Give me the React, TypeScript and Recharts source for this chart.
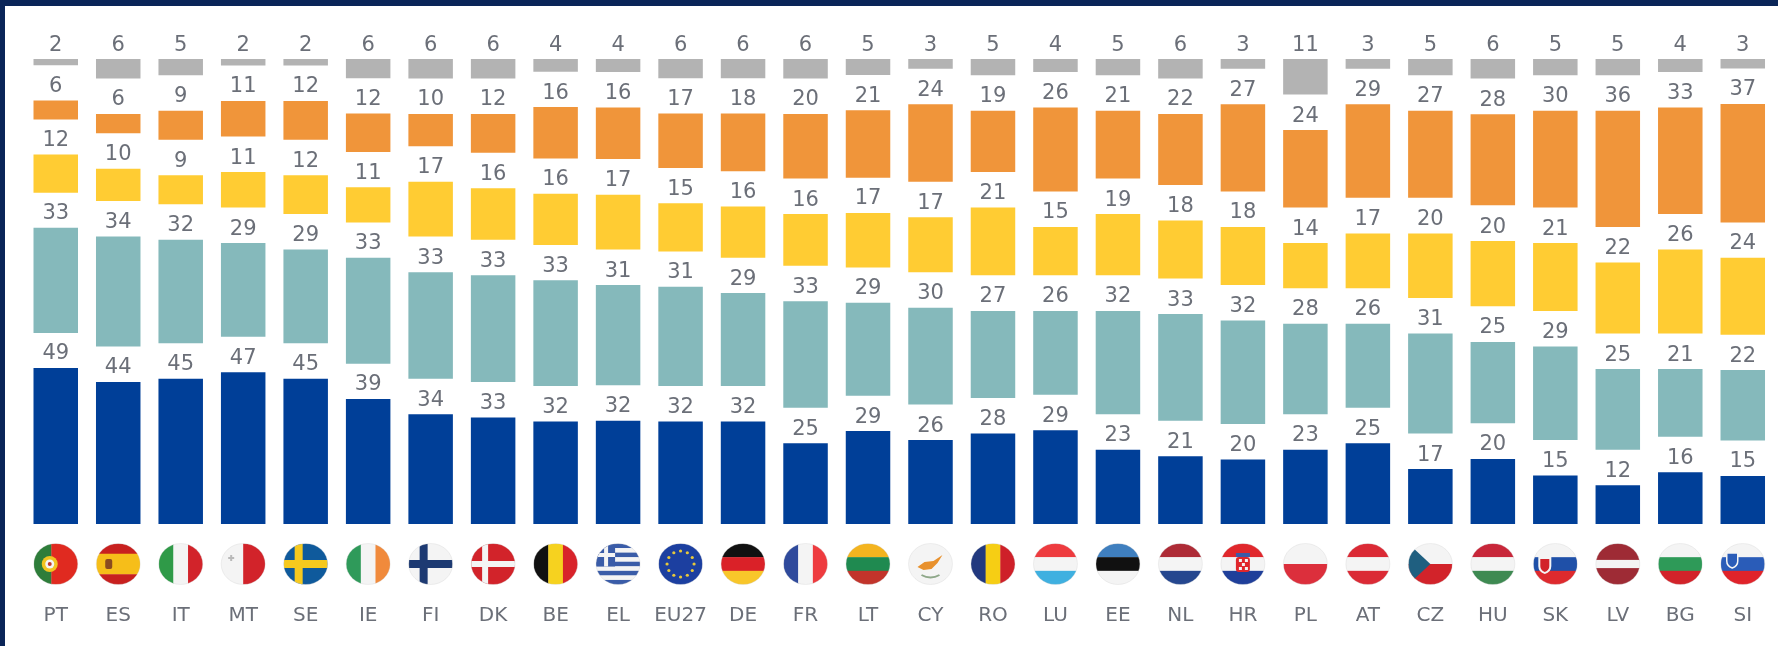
import { BarChart, Bar, XAxis, YAxis, LabelList } from 'recharts'

const COUNTRIES = ['PT', 'ES', 'IT', 'MT', 'SE', 'IE', 'FI', 'DK', 'BE', 'EL', 'EU27', 'DE', 'FR', 'LT', 'CY', 'RO', 'LU', 'EE', 'NL', 'HR', 'PL', 'AT', 'CZ', 'HU', 'SK', 'LV', 'BG', 'SI']
const BLUE = [49, 44, 45, 47, 45, 39, 34, 33, 32, 32, 32, 32, 25, 29, 26, 28, 29, 23, 21, 20, 23, 25, 17, 20, 15, 12, 16, 15]
const TEAL = [33, 34, 32, 29, 29, 33, 33, 33, 33, 31, 31, 29, 33, 29, 30, 27, 26, 32, 33, 32, 28, 26, 31, 25, 29, 25, 21, 22]
const YELLOW = [12, 10, 9, 11, 12, 11, 17, 16, 16, 17, 15, 16, 16, 17, 17, 21, 15, 19, 18, 18, 14, 17, 20, 20, 21, 22, 26, 24]
const ORANGE = [6, 6, 9, 11, 12, 12, 10, 12, 16, 16, 17, 18, 20, 21, 24, 19, 26, 21, 22, 27, 24, 29, 27, 28, 30, 36, 33, 37]
const GREY = [2, 6, 5, 2, 2, 6, 6, 6, 4, 4, 6, 6, 6, 5, 3, 5, 4, 5, 6, 3, 11, 3, 5, 6, 5, 5, 4, 3]

// white space between the segments, in the same units as the values
const GAP = 11

const rows = COUNTRIES.map((c, i) => ({
  country: c,
  blue: BLUE[i],
  gap1: GAP,
  teal: TEAL[i],
  gap2: GAP,
  yellow: YELLOW[i],
  gap3: GAP,
  orange: ORANGE[i],
  gap4: GAP,
  grey: GREY[i],
}))

const SEGMENTS = [
  { key: 'blue', color: '#003F98', spacer: 'gap1' },
  { key: 'teal', color: '#85B9BB', spacer: 'gap2' },
  { key: 'yellow', color: '#FFCC33', spacer: 'gap3' },
  { key: 'orange', color: '#F0953A', spacer: 'gap4' },
  { key: 'grey', color: '#B3B3B3', spacer: null },
]

const TEXT = '#6B6F78'
const FONT = '"DejaVu Sans", sans-serif'

const W = '#F4F4F4'

// plain striped flags: direction and colours
const STRIPES: Record<string, { dir: 'h' | 'v'; colors: string[]; weights?: number[] }> = {
  PT: { dir: 'v', colors: ['#2E7D3A', '#E02A20'], weights: [2, 3] },
  ES: { dir: 'h', colors: ['#C8201F', '#F6BE19', '#C8201F'], weights: [1, 2, 1] },
  IT: { dir: 'v', colors: ['#2F9A48', W, '#D2232A'] },
  MT: { dir: 'v', colors: [W, '#D2232A'] },
  SE: { dir: 'h', colors: ['#0F5A9C'] },
  IE: { dir: 'v', colors: ['#2F9A5A', W, '#F08A3C'] },
  FI: { dir: 'h', colors: [W] },
  DK: { dir: 'h', colors: ['#D2232A'] },
  BE: { dir: 'v', colors: ['#111111', '#F6D21F', '#D8232A'] },
  EL: { dir: 'h', colors: ['#3A5CA8', W, '#3A5CA8', W, '#3A5CA8', W, '#3A5CA8', W, '#3A5CA8'] },
  EU27: { dir: 'h', colors: ['#1C3FA0'] },
  DE: { dir: 'h', colors: ['#111111', '#DA2128', '#F8C62A'] },
  FR: { dir: 'v', colors: ['#2F4A9C', W, '#EE3B3F'] },
  LT: { dir: 'h', colors: ['#F4B41F', '#1F8A50', '#C2342B'] },
  CY: { dir: 'h', colors: [W] },
  RO: { dir: 'v', colors: ['#22397F', '#F6CE14', '#CE2029'] },
  LU: { dir: 'h', colors: ['#EE3B3F', W, '#3FB0E0'] },
  EE: { dir: 'h', colors: ['#3F7FBF', '#111111', W] },
  NL: { dir: 'h', colors: ['#AE2B36', W, '#25478F'] },
  HR: { dir: 'h', colors: ['#E0272C', W, '#1F3F9A'] },
  PL: { dir: 'h', colors: [W, '#DC2F3C'] },
  AT: { dir: 'h', colors: ['#DB2A35', W, '#DB2A35'] },
  CZ: { dir: 'h', colors: [W, '#D2232A'] },
  HU: { dir: 'h', colors: ['#C8273A', W, '#3E8A52'] },
  SK: { dir: 'h', colors: [W, '#1F50A8', '#DE2A2E'] },
  LV: { dir: 'h', colors: ['#9E2B35', W, '#9E2B35'], weights: [2, 1, 2] },
  BG: { dir: 'h', colors: [W, '#2E9A58', '#D2232A'] },
  SI: { dir: 'h', colors: [W, '#2A5CB8', '#E0232A'] },
}

const FW = 22
const FH = 20.5

function Stripes({ code }: { code: string }) {
  const { dir, colors, weights } = STRIPES[code]
  const ws = weights ?? colors.map(() => 1)
  const total = ws.reduce((s, v) => s + v, 0)
  let used = 0
  return (
    <>
      {colors.map((c, i) => {
        const from = used / total
        used += ws[i]
        const size = ws[i] / total
        return dir === 'h'
          ? <rect key={i} x={-FW} y={-FH + from * 2 * FH} width={2 * FW} height={size * 2 * FH + 0.3} fill={c} />
          : <rect key={i} x={-FW + from * 2 * FW} y={-FH} width={size * 2 * FW + 0.3} height={2 * FH} fill={c} />
      })}
    </>
  )
}

function Extras({ code }: { code: string }) {
  switch (code) {
    case 'PT':
      return (<><circle cx={-6} cy={0} r={8} fill="#F2C41F" /><circle cx={-6} cy={0} r={4.5} fill={W} /><circle cx={-6} cy={0} r={2} fill="#C0392B" /></>)
    case 'ES':
      return <rect x={-13} y={-5} width={7} height={10} rx={2} fill="#8A4B20" />
    case 'MT':
      return <path d="M-13 -9h2v2h2v2h-2v2h-2v-2h-2v-2h2z" fill="#B9B9B9" />
    case 'SE':
      return (<><rect x={-11} y={-FH} width={8} height={2 * FH} fill="#F6C91E" /><rect x={-FW} y={-4} width={2 * FW} height={8} fill="#F6C91E" /></>)
    case 'FI':
      return (<><rect x={-11} y={-FH} width={8} height={2 * FH} fill="#1D3A72" /><rect x={-FW} y={-4} width={2 * FW} height={8} fill="#1D3A72" /></>)
    case 'DK':
      return (<><rect x={-11} y={-FH} width={6} height={2 * FH} fill={W} /><rect x={-FW} y={-3} width={2 * FW} height={6} fill={W} /></>)
    case 'EL':
      return (<><rect x={-FW} y={-FH} width={19} height={23} fill="#3A5CA8" /><rect x={-14} y={-FH} width={4} height={23} fill={W} /><rect x={-FW} y={-11} width={19} height={4} fill={W} /></>)
    case 'EU27':
      return (
        <>
          {Array.from({ length: 12 }, (_, i) => {
            const a = (i * Math.PI) / 6
            return <circle key={i} cx={Math.cos(a) * 13.5} cy={Math.sin(a) * 13} r={1.6} fill="#E8C83A" />
          })}
        </>
      )
    case 'CY':
      return (
        <>
          <path d="M-13 3 L-6 -2 L3 -3 L12 -9 L7 -1 L1 5 L-7 6 Z" fill="#E8912D" />
          <path d="M-9 11 Q0 16 9 11" stroke="#8FA88A" strokeWidth={2} fill="none" />
        </>
      )
    case 'HR':
      return (<><rect x={-7} y={-11} width={14} height={4} fill="#3C5AA8" /><rect x={-7} y={-7} width={14} height={15} rx={3} fill="#E0272C" /><rect x={-4} y={-5} width={3} height={3} fill={W} /><rect x={2} y={-5} width={3} height={3} fill={W} /><rect x={-1} y={-1} width={3} height={3} fill={W} /><rect x={-4} y={3} width={3} height={3} fill={W} /><rect x={2} y={3} width={3} height={3} fill={W} /></>)
    case 'CZ':
      return <path d="M-22 -20.5 L0 0 L-22 20.5 Z" fill="#1F5F80" />
    case 'SK':
      return (<><path d="M-17 -7 h13 v9 q0 6 -6.5 8 q-6.5 -2 -6.5 -8 z" fill={W} /><path d="M-15 -5 h9 v7 q0 4 -4.5 6 q-4.5 -2 -4.5 -6 z" fill="#D2232A" /></>)
    case 'SI':
      return <path d="M-16 -11 h11 v8 q0 5 -5.5 7 q-5.5 -2 -5.5 -7 z" fill="#2A5CB8" stroke={W} strokeWidth={1.5} />
    default:
      return null
  }
}

function CountryTick({ x, y, payload }: any) {
  const code = payload.value as string
  return (
    <g transform={`translate(${x},${y})`}>
      <g transform="translate(0,40)">
        <clipPath id={`flag-${code}`}>
          <ellipse rx={FW} ry={FH} />
        </clipPath>
        <g clipPath={`url(#flag-${code})`}>
          <Stripes code={code} />
          <Extras code={code} />
        </g>
        <ellipse rx={FW} ry={FH} fill="none" stroke="#C9C9C9" strokeOpacity={0.5} strokeWidth={0.6} />
      </g>
      <text y={96.5} textAnchor="middle" fill={TEXT} fontSize={20} fontFamily={FONT}>{code}</text>
    </g>
  )
}

export default function App() {
  return (
    <div style={{ position: 'absolute', left: 0, top: 0, width: 1778, height: 646, overflow: 'hidden', background: '#fff' }}>
      <div style={{ position: 'absolute', left: 0, top: 0, width: 1778, height: 6, background: '#0A2558' }} />
      <div style={{ position: 'absolute', left: 0, top: 0, width: 5, height: 646, background: '#0A2558' }} />
      <div style={{ position: 'absolute', left: 0, top: 0, filter: 'blur(0.7px)' }}>
        <BarChart
          width={1778}
          height={646}
          data={rows}
          stackOffset="expand"
          margin={{ top: 59, right: 4, bottom: 0, left: 24.5 }}
        >
          <XAxis
            dataKey="country"
            interval={0}
            height={122}
            axisLine={false}
            tickLine={false}
            tickSize={0}
            tickMargin={0}
            tick={<CountryTick />}
          />
          <YAxis hide domain={[0, 1]} />
          {SEGMENTS.flatMap(s => {
            const marks = [
              <Bar key={s.key} dataKey={s.key} stackId="a" fill={s.color} barSize={44.5} isAnimationActive={false}>
                <LabelList
                  dataKey={s.key}
                  position="top"
                  offset={8.5}
                  fill={TEXT}
                  fontSize={21}
                  fontFamily={FONT}
                />
              </Bar>,
            ]
            if (s.spacer) {
              marks.push(
                <Bar key={s.spacer} dataKey={s.spacer} stackId="a" fill="none" barSize={44.5} isAnimationActive={false} />
              )
            }
            return marks
          })}
        </BarChart>
      </div>
    </div>
  )
}
